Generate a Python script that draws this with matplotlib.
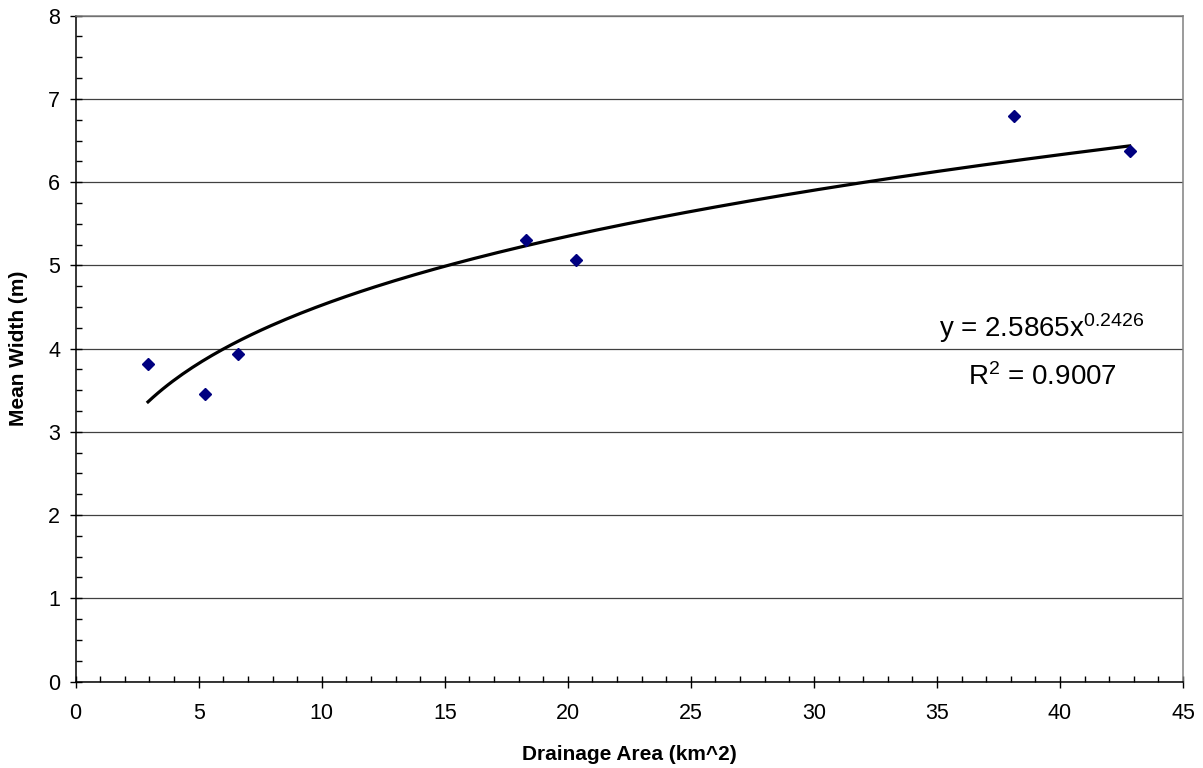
import numpy as np
import matplotlib.pyplot as plt
from matplotlib.ticker import MultipleLocator

plt.rcParams['font.family'] = ['Liberation Sans', 'DejaVu Sans']
plt.rcParams['mathtext.default'] = 'regular'

# measured points
drainage_area = [2.94, 5.26, 6.59, 18.28, 20.33, 38.14, 42.83]
mean_width = [3.81, 3.45, 3.94, 5.31, 5.06, 6.80, 6.37]

# power trendline from the chart label
trend_a = 2.5865
trend_b = 0.2426
trend_r2 = 0.9007

fig = plt.figure(figsize=(12.03, 7.68), dpi=100)
ax = fig.add_axes([0.0629, 0.1126, 0.9205, 0.867])

ax.set_xlim(0, 45)
ax.set_ylim(0, 8)
ax.xaxis.set_major_locator(MultipleLocator(5))
ax.xaxis.set_minor_locator(MultipleLocator(1))
ax.yaxis.set_major_locator(MultipleLocator(1))
ax.yaxis.set_minor_locator(MultipleLocator(0.25))

ax.grid(axis='y', which='major', color='#404040', lw=0.9)
ax.set_axisbelow(True)

xs = np.linspace(min(drainage_area), max(drainage_area), 200)
ax.plot(xs, trend_a * xs ** trend_b, color='black', lw=2.3, zorder=2)
ax.plot(drainage_area, mean_width, ls='none', marker='D', ms=6.5,
        color='#000080', zorder=3)

# pixel positions measured from the top edge
ax.text(1042, 768 - 337, 'y = %.4fx$^{%.4f}$' % (trend_a, trend_b),
        transform=None, ha='center', va='baseline', fontsize=20)
ax.text(1042, 768 - 385, 'R$^{2}$ = %.4f' % trend_r2,
        transform=None, ha='center', va='baseline', fontsize=20)

for s in ['left', 'bottom']:
    ax.spines[s].set_color('black')
    ax.spines[s].set_linewidth(1.1)
for s in ['top', 'right']:
    ax.spines[s].set_color('#808080')
    ax.spines[s].set_linewidth(1.1)

ax.tick_params(which='major', direction='inout', length=8.5, width=1,
               labelsize=15.5, top=False, right=False)
ax.tick_params(which='minor', direction='in', length=4, width=1,
               top=False, right=False)
ax.tick_params(axis='x', which='major', pad=11)
ax.tick_params(axis='y', which='major', pad=7)

ax.set_xlabel('Drainage Area (km^2)', fontsize=15, fontweight='bold',
              labelpad=15)
ax.set_ylabel('Mean Width (m)', fontsize=15, fontweight='bold',
              labelpad=14)

fig.savefig('out.png', dpi=100)
